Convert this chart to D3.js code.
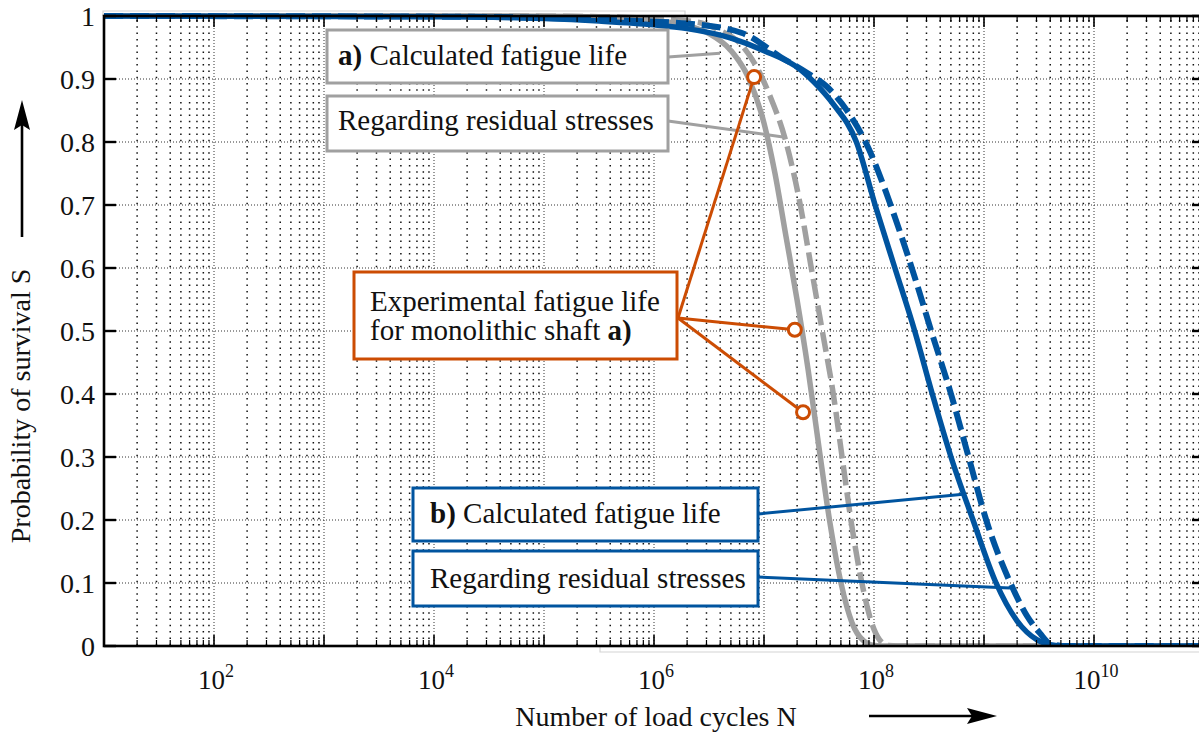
<!DOCTYPE html>
<html><head><meta charset="utf-8">
<script src="https://cdn.jsdelivr.net/npm/d3@7"></script>
<style>
body{margin:0;background:#fff}
svg{display:block}
text{font-family:"Liberation Serif","Times New Roman","DejaVu Serif",serif;fill:#111}
</style>
</head><body>
<svg id="chart" width="1199" height="732" font-family="Liberation Serif, Times New Roman, DejaVu Serif, serif"></svg>
<script>
// ---------- data (x values are log10 of load cycles N) ----------
const xTickExponents = [2, 4, 6, 8, 10];
const yTickValues = [0, 0.1, 0.2, 0.3, 0.4, 0.5, 0.6, 0.7, 0.8, 0.9, 1];
const yTickLabels = ["0", "0.1", "0.2", "0.3", "0.4", "0.5", "0.6", "0.7", "0.8", "0.9", "1"];

// a) calculated fatigue life (grey solid)
const aCalcLgN = [1, 4, 5, 5.5, 6, 6.3, 6.5, 6.7, 6.85, 7.0, 7.1, 7.2, 7.3, 7.4, 7.5, 7.6, 7.7, 7.8, 7.9, 8.0, 8.15, 11];
const aCalcS   = [1, 1, 0.9998, 0.9985, 0.993, 0.985, 0.972, 0.945, 0.905, 0.83, 0.75, 0.65, 0.55, 0.44, 0.315, 0.195, 0.1, 0.037, 0.009, 0.001, 0, 0];
// a) regarding residual stresses (grey dashed)
const aResLgN = [1, 4, 5, 5.5, 6, 6.4, 6.6, 6.78, 6.93, 7.05, 7.2, 7.33, 7.43, 7.53, 7.63, 7.71, 7.79, 7.89, 7.98, 8.05, 8.13, 8.3, 11];
const aResS   = [1, 1, 0.9998, 0.999, 0.996, 0.99, 0.977, 0.957, 0.92, 0.875, 0.80, 0.70, 0.60, 0.50, 0.40, 0.30, 0.20, 0.10, 0.036, 0.01, 0.001, 0, 0];
// b) calculated fatigue life (blue solid)
const bCalcLgN = [1, 4, 5, 5.5, 6, 6.3, 6.7, 7.0, 7.33, 7.51, 7.63, 7.84, 8.01, 8.19, 8.37, 8.53, 8.70, 8.90, 9.11, 9.30, 9.48, 9.65, 9.8, 11];
const bCalcS   = [1, 0.999, 0.996, 0.992, 0.986, 0.98, 0.965, 0.945, 0.915, 0.885, 0.86, 0.80, 0.70, 0.60, 0.50, 0.40, 0.30, 0.20, 0.10, 0.04, 0.01, 0.001, 0, 0];
// b) regarding residual stresses (blue dashed)
const bResLgN = [1, 4, 5, 5.5, 6.3, 6.8, 7.15, 7.39, 7.57, 7.75, 7.95, 8.11, 8.25, 8.38, 8.52, 8.70, 8.86, 9.02, 9.24, 9.39, 9.51, 9.6, 9.75, 11];
const bResS   = [1, 0.999, 0.997, 0.994, 0.988, 0.973, 0.935, 0.91, 0.888, 0.851, 0.79, 0.72, 0.65, 0.58, 0.50, 0.40, 0.30, 0.20, 0.10, 0.048, 0.02, 0.004, 0, 0];
// experimental fatigue life, monolithic shaft a)
const expLgN = [6.91, 7.28, 7.355];
const expS   = [0.903, 0.502, 0.371];

// ---------- layout ----------
const svg = d3.select("#chart");
const L = 104, R = 1204, T = 16, B = 646;
const x = d3.scaleLog().domain([1e1, 1e11]).range([L, R]);
const y = d3.scaleLinear().domain([0, 1]).range([B, T]);
const px = lg => x(Math.pow(10, lg));

const GREY = "#a0a0a0", BLUE = "#00549f", ORANGE = "#cc4c03";

// faint frame artefacts
svg.append("path").attr("d", `M103,16V11H685V16`).attr("fill","none").attr("stroke","#d4d4d4").attr("stroke-width",1.2);
svg.append("path").attr("d", `M600,646V652H1199`).attr("fill","none").attr("stroke","#d4d4d4").attr("stroke-width",1.2);

// ---------- grid ----------
const grid = svg.append("g");
const minorVals = [], majorVals = [];
for (let e = 1; e <= 10; e++) {
  if (e > 1) majorVals.push(Math.pow(10, e));
  for (let m = 2; m <= 9; m++) minorVals.push(m * Math.pow(10, e));
}
grid.selectAll(".mn").data(minorVals).enter().append("line")
  .attr("x1", d => x(d)).attr("x2", d => x(d)).attr("y1", T + 4).attr("y2", B)
  .attr("stroke", "#111").attr("stroke-width", 1.5).attr("stroke-dasharray", "1.5,4.8");
grid.selectAll(".mj").data(majorVals).enter().append("line")
  .attr("x1", d => x(d)).attr("x2", d => x(d)).attr("y1", T).attr("y2", B)
  .attr("stroke", "#333").attr("stroke-width", 1).attr("stroke-dasharray", "1,2");
grid.selectAll(".hy").data(yTickValues.slice(1, -1)).enter().append("line")
  .attr("x1", L).attr("x2", R).attr("y1", d => y(d)).attr("y2", d => y(d))
  .attr("stroke", "#333").attr("stroke-width", 1).attr("stroke-dasharray", "1,2");

// ---------- curves ----------
svg.append("clipPath").attr("id", "clip").append("rect")
  .attr("x", L).attr("y", T - 4).attr("width", R - L).attr("height", B - T + 4);
const curves = svg.append("g").attr("clip-path", "url(#clip)");
const line = d3.line().x(d => px(d[0])).y(d => y(d[1])).curve(d3.curveMonotoneX);
function series(lg, s) { return lg.map((v, i) => [v, s[i]]); }
curves.append("path").datum(series(aCalcLgN, aCalcS)).attr("d", line)
  .attr("fill", "none").attr("stroke", GREY).attr("stroke-width", 5.5);
curves.append("path").datum(series(aResLgN, aResS)).attr("d", line)
  .attr("fill", "none").attr("stroke", GREY).attr("stroke-width", 5.5).attr("stroke-dasharray", "20,7");
curves.append("path").datum(series(bCalcLgN, bCalcS)).attr("d", line)
  .attr("fill", "none").attr("stroke", BLUE).attr("stroke-width", 5.5);
curves.append("path").datum(series(bResLgN, bResS)).attr("d", line)
  .attr("fill", "none").attr("stroke", BLUE).attr("stroke-width", 6).attr("stroke-dasharray", "19,7");

// ---------- axes ----------
const ax = svg.append("g");
ax.append("rect").attr("x", L).attr("y", T).attr("width", R - L).attr("height", B - T)
  .attr("fill", "none").attr("stroke", "#000").attr("stroke-width", 2.6);
const allX = minorVals.map(v => ({v, major: false})).concat(majorVals.map(v => ({v, major: true})));
ax.selectAll(".xb").data(allX).enter().append("line")
  .attr("x1", d => x(d.v)).attr("x2", d => x(d.v))
  .attr("y1", B).attr("y2", d => B - (d.major ? 11 : 6))
  .attr("stroke", "#000").attr("stroke-width", d => d.major ? 1.6 : 1.2);
ax.selectAll(".xt").data(allX).enter().append("line")
  .attr("x1", d => x(d.v)).attr("x2", d => x(d.v))
  .attr("y1", T).attr("y2", d => T + (d.major ? 11 : 6))
  .attr("stroke", "#000").attr("stroke-width", d => d.major ? 1.6 : 1.2);
ax.selectAll(".yl").data(yTickValues).enter().append("line")
  .attr("x1", L).attr("x2", L + 12).attr("y1", d => y(d)).attr("y2", d => y(d))
  .attr("stroke", "#000").attr("stroke-width", 2.4);
ax.selectAll(".yr").data(yTickValues).enter().append("line")
  .attr("x1", R).attr("x2", R - 12).attr("y1", d => y(d)).attr("y2", d => y(d))
  .attr("stroke", "#000").attr("stroke-width", 2.4);
ax.selectAll(".ylab").data(yTickValues).enter().append("text")
  .attr("x", 95).attr("y", d => y(d) + 10).attr("text-anchor", "end")
  .attr("font-size", 28).text((d, i) => yTickLabels[i]);
const xl = ax.selectAll(".xlab").data(xTickExponents).enter().append("text")
  .attr("x", d => x(Math.pow(10, d)) + 2).attr("y", 689).attr("text-anchor", "middle").attr("font-size", 27);
xl.append("tspan").text("10");
xl.append("tspan").attr("dy", -12).attr("font-size", 18).text(d => d);

// axis titles and arrows
svg.append("text").attr("transform", "translate(30,406) rotate(-90)").attr("text-anchor", "middle")
  .attr("font-size", 28).text("Probability of survival S");
svg.append("text").attr("x", 656).attr("y", 726).attr("text-anchor", "middle")
  .attr("font-size", 28).text("Number of load cycles N");
svg.append("line").attr("x1", 22).attr("x2", 22).attr("y1", 237).attr("y2", 118).attr("stroke", "#000").attr("stroke-width", 2.6);
svg.append("path").attr("d", "M22,100L30,130L22,125L14,130Z").attr("fill", "#000");
svg.append("line").attr("x1", 869).attr("x2", 980).attr("y1", 716).attr("y2", 716).attr("stroke", "#000").attr("stroke-width", 2.6);
svg.append("path").attr("d", "M997,716L967,724L972,716L967,708Z").attr("fill", "#000");

// ---------- annotations ----------
const ann = svg.append("g");
function box(x0, y0, w, h, col) {
  ann.append("rect").attr("x", x0).attr("y", y0).attr("width", w).attr("height", h)
    .attr("fill", "#fff").attr("stroke", col).attr("stroke-width", 3);
}
function leader(x0, y0, lg, s, col, w) {
  ann.append("line").attr("x1", x0).attr("y1", y0).attr("x2", px(lg)).attr("y2", y(s))
    .attr("stroke", col).attr("stroke-width", w);
}
leader(668, 57, 6.6, 0.941, GREY, 3);
leader(668, 121, 7.173, 0.808, GREY, 3);
box(327, 30, 341, 53, GREY);
box(327, 96, 341, 55, GREY);
const t1 = ann.append("text").attr("x", 338).attr("y", 65).attr("font-size", 29);
t1.append("tspan").attr("font-weight", "bold").text("a)");
t1.append("tspan").text(" Calculated fatigue life");
ann.append("text").attr("x", 338).attr("y", 130).attr("font-size", 29).text("Regarding residual stresses");

leader(758, 514, 8.81, 0.241, BLUE, 3);
leader(758, 577, 9.236, 0.092, BLUE, 3);
box(413, 488, 345, 53, BLUE);
box(413, 551, 345, 55, BLUE);
const t2 = ann.append("text").attr("x", 430).attr("y", 523).attr("font-size", 29);
t2.append("tspan").attr("font-weight", "bold").text("b)");
t2.append("tspan").text(" Calculated fatigue life");
ann.append("text").attr("x", 430).attr("y", 588).attr("font-size", 29).text("Regarding residual stresses");

expLgN.forEach((lg, i) => leader(678, 318, lg, expS[i], ORANGE, 3));
box(354, 272, 323, 87, ORANGE);
ann.append("text").attr("x", 370).attr("y", 311).attr("font-size", 29).text("Experimental fatigue life");
const t3 = ann.append("text").attr("x", 370).attr("y", 340).attr("font-size", 29);
t3.append("tspan").text("for monolithic shaft ");
t3.append("tspan").attr("font-weight", "bold").text("a)");
ann.selectAll(".exp").data(expLgN).enter().append("circle")
  .attr("cx", d => px(d)).attr("cy", (d, i) => y(expS[i])).attr("r", 6.5)
  .attr("fill", "#fff").attr("stroke", ORANGE).attr("stroke-width", 3);
</script>
</body></html>
